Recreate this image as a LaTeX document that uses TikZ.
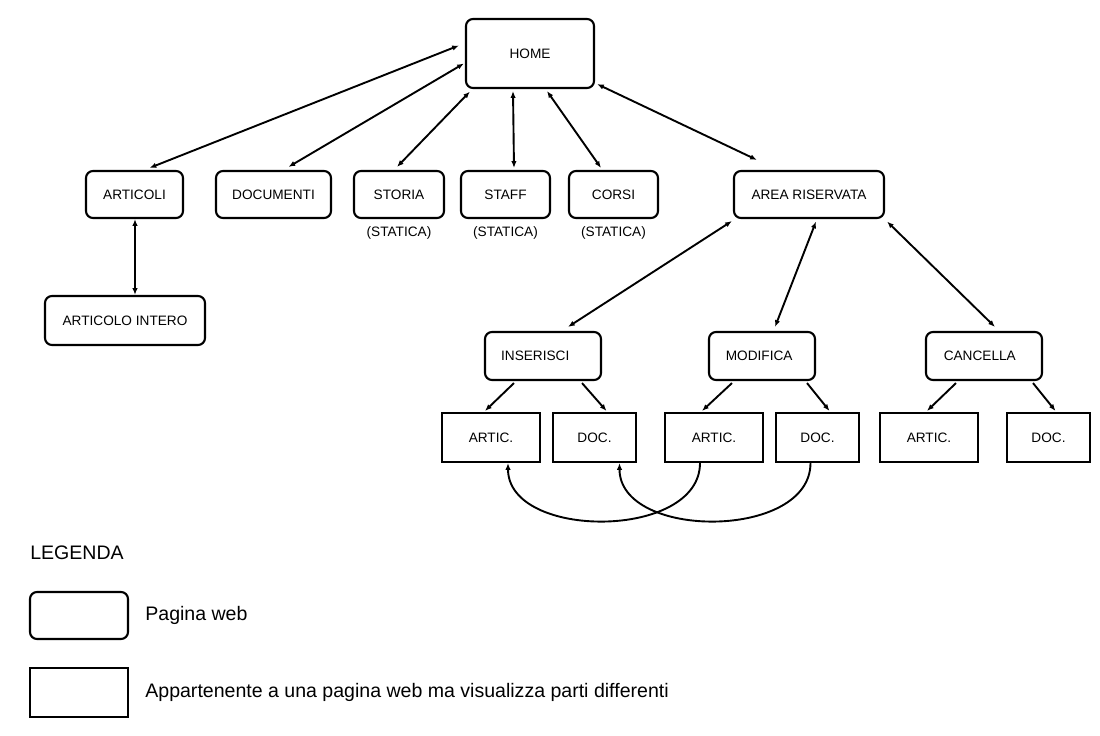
\documentclass[tikz,border=0pt]{standalone}
\usepackage{fontspec}
\setmainfont{Liberation Sans}
\usepackage{tikz}
\usetikzlibrary{arrows.meta, positioning, calc}
\definecolor{myblack}{RGB}{0,0,0}
\newcommand{\boxfont}{\fontsize{9.7}{11}\selectfont}
\newcommand{\legfont}{\fontsize{13.9}{16}\selectfont}
\tikzset{
  pagebox/.style={rectangle, draw=myblack, fill=white, rounded corners=5pt,
    line width=1.5pt, inner sep=0pt, font=\boxfont},
  partbox/.style={rectangle, draw=myblack, fill=white,
    line width=1.5pt, inner sep=0pt, font=\boxfont},
  articbox/.style={partbox, minimum width=2.45cm, minimum height=1.225cm},
  docbox/.style={partbox, minimum width=2.075cm, minimum height=1.225cm},
  staticlabel/.style={inner sep=0pt, font=\boxfont},
  legtext/.style={inner sep=0pt, font=\legfont},
  link/.style={<->, line width=1.35pt, color=myblack},
  arrow/.style={->, line width=1.35pt, color=myblack}
}

\begin{document}
\begin{tikzpicture}[x=0.025cm, y=-0.025cm, >={Latex[length=4.8pt,width=3.8pt]}]
  \useasboundingbox[fill=white] (0,0) rectangle (1100,736);

  % pagine web
  \node[pagebox, minimum width=3.2cm, minimum height=1.725cm] (home) at (530,53.5) {HOME};
  \node[pagebox, minimum width=2.425cm, minimum height=1.175cm] (articoli) at (134.5,194.5) {ARTICOLI};
  \node[pagebox, minimum width=2.875cm, minimum height=1.175cm] (documenti) at (273.5,194.5) {DOCUMENTI};
  \node[pagebox, minimum width=2.25cm, minimum height=1.175cm] (storia) at (399,194.5) {STORIA};
  \node[pagebox, minimum width=2.225cm, minimum height=1.175cm] (staff) at (505.5,194.5) {STAFF};
  \node[pagebox, minimum width=2.225cm, minimum height=1.175cm] (corsi) at (613.5,194.5) {CORSI};
  \node[pagebox, minimum width=3.75cm, minimum height=1.175cm] (area) at (809,194.5) {AREA RISERVATA};
  \node[pagebox, minimum width=4cm, minimum height=1.225cm] (intero) at (125,320.5) {ARTICOLO INTERO};
  \node[pagebox, minimum width=2.9cm, minimum height=1.2cm] (inserisci) at (543,356) {\hspace*{-11pt}INSERISCI};
  \node[pagebox, minimum width=2.65cm, minimum height=1.2cm] (modifica) at (762,356) {\hspace*{-4pt}MODIFICA};
  \node[pagebox, minimum width=2.9cm, minimum height=1.2cm] (cancella) at (984,356) {\hspace*{-6pt}CANCELLA};

  \node[staticlabel, below=5pt of storia] (storiastat) {(STATICA)};
  \node[staticlabel, below=5pt of staff] (staffstat) {(STATICA)};
  \node[staticlabel, below=5pt of corsi] (corsistat) {(STATICA)};

  % parti di pagina
  \node[articbox] (artic1) at (491,437.5) {ARTIC.};
  \node[docbox] (doc1) at (594.5,437.5) {DOC.};
  \node[articbox] (artic2) at (714,437.5) {ARTIC.};
  \node[docbox] (doc2) at (817.5,437.5) {DOC.};
  \node[articbox] (artic3) at (929,437.5) {ARTIC.};
  \node[docbox] (doc3) at (1048.5,437.5) {DOC.};

  % collegamenti
  \draw[link] ($(home.west)+(-6,-8)$) -- ($(articoli.north)+(15,-2)$);
  \draw[link] ($(home.west)+(-1,10)$) -- ($(documenti.north)+(15,-3)$);
  \draw[link] ($(home.south west)+(5,2.5)$) -- ($(storia.north)+(-2,-3)$);
  \draw[link] ($(home.south)+(-17,2)$) -- ($(staff.north)+(8.5,-2)$);
  \draw[link] ($(home.south)+(17,2)$) -- ($(corsi.north)+(-12.5,-2)$);
  \draw[link] ($(home.south east)+(2,-5)$) -- ($(area.north west)+(24,-10)$);
  \draw[link] ($(articoli.south)+(0.5,0)$) -- ($(articoli.south |- intero.north)+(0.5,0)$);
  \draw[link] ($(area.south west)+(-1,2)$) -- ($(inserisci.north)+(25,-4)$);
  \draw[link] ($(area.south)+(7,2.5)$) -- ($(modifica.north)+(13,-4)$);
  \draw[link] ($(area.south east)+(2,2.5)$) -- ($(cancella.north)+(11,-4)$);

  \draw[arrow] ($(inserisci.south)+(-29,2)$) -- ($(artic1.north)+(-6,-1)$);
  \draw[arrow] ($(inserisci.south)+(39,2)$) -- ($(doc1.north)+(12,-1)$);
  \draw[arrow] ($(modifica.south)+(-30,2)$) -- ($(artic2.north)+(-12,-1)$);
  \draw[arrow] ($(modifica.south)+(45,2)$) -- ($(doc2.north)+(12,-1)$);
  \draw[arrow] ($(cancella.south)+(-28,2)$) -- ($(artic3.north)+(-2,-1)$);
  \draw[arrow] ($(cancella.south)+(49,2)$) -- ($(doc3.north)+(7,-1)$);

  \draw[arrow] ($(artic2.south)+(-14,0)$) .. controls +(0,77) and +(0,77) .. ($(artic1.south)+(17,0)$);
  \draw[arrow] ($(doc2.south)+(-7,0)$) .. controls +(0,77) and +(0,77) .. ($(doc1.south)+(25,0)$);

  % legenda
  \node[legtext, anchor=west] (legenda) at (30,553) {LEGENDA};
  \node[pagebox, minimum width=2.45cm, minimum height=1.175cm] (legpage) at (79,615.5) {};
  \node[partbox, minimum width=2.45cm, minimum height=1.225cm] (legpart) at (79,692.5) {};
  \node[legtext, right=0.4cm of legpage] (legpagetxt) {Pagina web};
  \node[legtext, right=0.4cm of legpart] (legparttxt) {Appartenente a una pagina web ma visualizza parti differenti};
\end{tikzpicture}
\end{document}
